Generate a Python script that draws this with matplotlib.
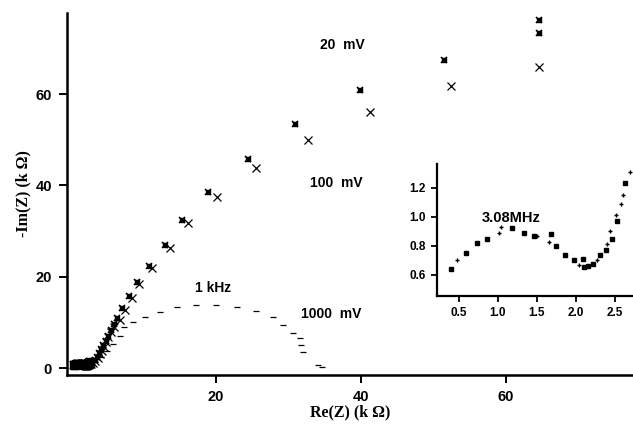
import matplotlib
matplotlib.use('Agg')
import matplotlib.pyplot as plt

# 20 mV series (asterisks), Re(Z) and -Im(Z) in kOhm
re_20 = [64.5, 64.5, 51.4, 39.9, 30.9, 24.5, 18.9, 15.3, 13.0, 10.8, 9.1, 8.1, 7.1, 6.4,
         5.9, 5.5, 5.1, 4.8, 4.5, 4.2, 3.9, 3.6, 3.3, 3.0, 2.7, 2.4]
im_20 = [76.2, 73.4, 67.4, 60.9, 53.4, 45.7, 38.5, 32.4, 26.9, 22.3, 18.8, 15.8, 13.1, 11.0,
         9.6, 8.3, 7.1, 6.0, 5.0, 4.1, 3.3, 2.5, 1.8, 1.3, 1.0, 0.8]

# 100 mV series (crosses)
re_100 = [64.6, 52.4, 41.2, 32.7, 25.6, 20.2, 16.2, 13.7, 11.2, 9.4, 8.4, 7.5, 6.8,
          6.0, 5.6, 5.2, 4.9, 4.6, 4.3, 4.0, 3.7, 3.4, 3.1, 2.8]
im_100 = [66.0, 61.8, 56.1, 49.9, 43.7, 37.5, 31.7, 26.3, 21.9, 18.4, 15.3, 12.7, 10.6,
          9.0, 7.8, 6.7, 5.6, 4.6, 3.8, 3.0, 2.2, 1.6, 1.1, 0.8]

# 1000 mV series (dashes)
re_1000 = [34.6, 34.1, 32.0, 31.8, 31.6, 30.6, 29.2, 27.9, 25.5, 22.9, 20.0, 17.2, 14.7,
           12.3, 10.2, 8.6, 7.4, 6.8, 5.8, 5.0, 4.2, 3.4]
im_1000 = [0.3, 0.7, 3.6, 5.0, 6.5, 7.7, 9.4, 11.2, 12.5, 13.4, 13.9, 13.8, 13.4,
           12.2, 11.2, 10.1, 9.0, 6.9, 5.3, 3.8, 2.4, 1.3]

# high-frequency detail (inset), kOhm
re_hf_a = [0.40, 0.60, 0.73, 0.86, 1.18, 1.34, 1.46, 1.68, 1.74, 1.86, 1.98, 2.09, 2.10,
           2.16, 2.22, 2.31, 2.39, 2.46, 2.52, 2.63]
im_hf_a = [0.64, 0.75, 0.82, 0.85, 0.92, 0.89, 0.87, 0.88, 0.80, 0.74, 0.70, 0.71, 0.655,
           0.665, 0.675, 0.74, 0.77, 0.85, 0.97, 1.23]
re_hf_b = [0.48, 1.02, 1.04, 1.50, 1.65, 2.04, 2.27, 2.40, 2.44, 2.51, 2.58, 2.60, 2.69]
im_hf_b = [0.70, 0.89, 0.93, 0.87, 0.83, 0.67, 0.70, 0.81, 0.90, 1.01, 1.09, 1.15, 1.31]

main_xticks = [20, 40, 60]
main_yticks = [0, 20, 40, 60]
inset_xticks = [0.5, 1.0, 1.5, 2.0, 2.5]
inset_yticks = [0.6, 0.8, 1.0, 1.2]

sans = 'Liberation Sans'
serif = 'Liberation Serif'

fig = plt.figure(figsize=(6.33, 4.25), dpi=100)
ax = fig.add_axes([0.106, 0.118, 0.894, 0.851])

ax.plot(re_20, im_20, ls='none', marker='x', ms=5, mew=1.2, color='black')
ax.plot(re_20, im_20, ls='none', marker='s', ms=2.3, color='black')
ax.plot(re_100, im_100, ls='none', marker='x', ms=5.5, mew=0.9, color='black')
ax.plot(re_1000, im_1000, ls='none', marker='_', ms=4.5, mew=0.9, color='black')
ax.plot(re_hf_a, im_hf_a, ls='none', marker='s', ms=6, color='black')
ax.plot(re_hf_b, im_hf_b, ls='none', marker='x', ms=6, mew=1.5, color='black')

ax.set_xlim(-0.5, 77.5)
ax.set_ylim(-1.5, 77.7)
ax.set_xticks(main_xticks)
ax.set_yticks(main_yticks)
for s in ['top', 'right']:
    ax.spines[s].set_visible(False)
for s in ['left', 'bottom']:
    ax.spines[s].set_linewidth(1.8)
ax.tick_params(direction='out', length=6, width=1.4, pad=5)
for lab in ax.get_xticklabels() + ax.get_yticklabels():
    lab.set_fontfamily(sans)
    lab.set_fontweight('bold')
    lab.set_fontsize(10.5)
ax.set_xlabel('Re(Z) (k \u03a9)', fontfamily=serif, fontweight='bold', fontsize=11.5, labelpad=0)
ax.set_ylabel('-Im(Z) (k \u03a9)', fontfamily=serif, fontweight='bold', fontsize=11.5, labelpad=3)

ax.text(37.4, 70.7, '20  mV', fontfamily=sans, fontweight='bold', fontsize=10, ha='center', va='center')
ax.text(36.6, 40.5, '100  mV', fontfamily=sans, fontweight='bold', fontsize=10, ha='center', va='center')
ax.text(35.9, 11.8, '1000  mV', fontfamily=sans, fontweight='bold', fontsize=10, ha='center', va='center')
ax.text(19.6, 17.5, '1 kHz', fontfamily=sans, fontweight='bold', fontsize=10, ha='center', va='center')

ins = fig.add_axes([0.690, 0.3035, 0.310, 0.311])
ins.plot(re_hf_a, im_hf_a, ls='none', marker='s', ms=2.6, color='black')
ins.plot(re_hf_b, im_hf_b, ls='none', marker='+', ms=3, mew=1.0, color='black')
ins.set_xlim(0.22, 2.73)
ins.set_ylim(0.455, 1.365)
ins.set_xticks(inset_xticks)
ins.set_yticks(inset_yticks)
for s in ['top', 'right']:
    ins.spines[s].set_visible(False)
for s in ['left', 'bottom']:
    ins.spines[s].set_linewidth(1.6)
ins.tick_params(direction='out', length=4, width=1.3, pad=4)
for lab in ins.get_xticklabels() + ins.get_yticklabels():
    lab.set_fontfamily(sans)
    lab.set_fontweight('bold')
    lab.set_fontsize(8.5)
ins.text(1.17, 0.99, '3.08MHz', fontfamily=sans, fontweight='bold', fontsize=10.5, ha='center', va='center')

fig.savefig('out.png', dpi=100)
